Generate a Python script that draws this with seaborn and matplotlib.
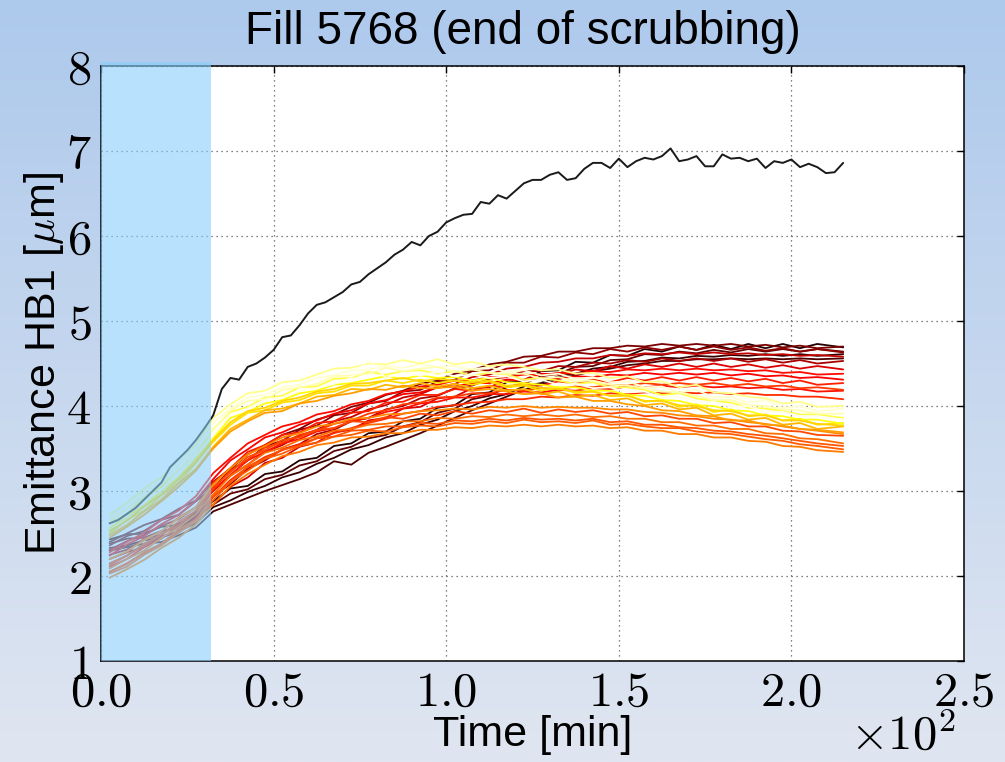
import numpy as np
import pandas as pd
import seaborn as sns
import matplotlib.pyplot as plt
from matplotlib.ticker import FuncFormatter, MultipleLocator

# sample times [min]
t_bunch = [2.5, 7.5, 12.5, 17.5, 22.5, 27.5, 32.5, 37.5, 42.5, 47.5, 52.5, 57.5, 62.5, 67.5,
           72.5, 77.5, 82.5, 87.5, 92.5, 97.5, 102.5, 107.5, 112.5, 117.5, 122.5, 127.5, 132.5,
           137.5, 142.5, 147.5, 152.5, 157.5, 162.5, 167.5, 172.5, 177.5, 182.5, 187.5, 192.5,
           197.5, 202.5, 207.5, 215]
t_black = [2.5, 5, 7.5, 10, 12.5, 15, 17.5, 20, 22.5, 25, 27.5, 30, 32.5, 35, 37.5, 40, 42.5,
           45, 47.5, 50, 52.5, 55, 57.5, 60, 62.5, 65, 67.5, 70, 72.5, 75, 77.5, 80, 82.5, 85,
           87.5, 90, 92.5, 95, 97.5, 100, 102.5, 105, 107.5, 110, 112.5, 115, 117.5, 120, 122.5,
           125, 127.5, 130, 132.5, 135, 137.5, 140, 142.5, 145, 147.5, 150, 152.5, 155, 157.5,
           160, 162.5, 165, 167.5, 170, 172.5, 175, 177.5, 180, 182.5, 185, 187.5, 190, 192.5,
           195, 197.5, 200, 202.5, 205, 207.5, 210, 212.5, 215]

# emittance of the single leading bunch (black)
emit_black = [2.62, 2.66, 2.73, 2.80, 2.90, 3.00, 3.10, 3.28, 3.38, 3.48, 3.60, 3.74, 3.89, 4.20,
              4.33, 4.31, 4.46, 4.50, 4.57, 4.66, 4.81, 4.83, 4.95, 5.09, 5.19, 5.22, 5.28, 5.34,
              5.43, 5.46, 5.55, 5.62, 5.69, 5.78, 5.84, 5.93, 5.89, 6.00, 6.05, 6.16, 6.21, 6.25,
              6.26, 6.40, 6.38, 6.48, 6.44, 6.53, 6.62, 6.66, 6.66, 6.72, 6.75, 6.66, 6.68, 6.79,
              6.86, 6.86, 6.80, 6.91, 6.81, 6.88, 6.92, 6.90, 6.94, 7.03, 6.88, 6.90, 6.94, 6.82,
              6.82, 6.96, 6.91, 6.92, 6.88, 6.91, 6.80, 6.88, 6.86, 6.90, 6.81, 6.85, 6.81, 6.74,
              6.75, 6.86]

# darkest bunches
k1 = [2.43, 2.49, 2.50, 2.58, 2.60, 2.75, 2.88, 3.03, 3.06, 3.20, 3.23, 3.36, 3.39, 3.53, 3.56,
      3.68, 3.70, 3.82, 3.85, 3.98, 4.01, 4.14, 4.16, 4.28, 4.30, 4.41, 4.42, 4.52, 4.51, 4.60,
      4.59, 4.67, 4.64, 4.70, 4.66, 4.72, 4.67, 4.73, 4.68, 4.73, 4.68, 4.73, 4.69]
k2 = [2.33, 2.36, 2.42, 2.45, 2.53, 2.62, 2.81, 2.89, 2.99, 3.06, 3.16, 3.22, 3.32, 3.39, 3.49,
      3.54, 3.63, 3.68, 3.78, 3.84, 3.94, 4.00, 4.09, 4.14, 4.23, 4.27, 4.35, 4.38, 4.44, 4.46,
      4.52, 4.53, 4.57, 4.56, 4.59, 4.58, 4.60, 4.59, 4.61, 4.59, 4.61, 4.59, 4.61]
k3 = [2.30, 2.34, 2.38, 2.40, 2.48, 2.57, 2.76, 2.84, 2.92, 3.00, 3.07, 3.14, 3.22, 3.35, 3.31,
      3.45, 3.52, 3.60, 3.68, 3.77, 3.86, 3.95, 4.03, 4.11, 4.19, 4.25, 4.32, 4.36, 4.41, 4.44,
      4.48, 4.50, 4.53, 4.53, 4.55, 4.55, 4.56, 4.55, 4.56, 4.55, 4.56, 4.55, 4.56]
k4 = [2.38, 2.44, 2.45, 2.53, 2.56, 2.70, 2.84, 2.97, 3.02, 3.14, 3.19, 3.30, 3.35, 3.47, 3.52,
      3.62, 3.66, 3.76, 3.81, 3.92, 3.97, 4.08, 4.12, 4.22, 4.26, 4.35, 4.38, 4.46, 4.47, 4.54,
      4.55, 4.61, 4.60, 4.64, 4.62, 4.66, 4.63, 4.67, 4.64, 4.67, 4.64, 4.67, 4.64]

# dark red bunches
d1 = [2.36, 2.47, 2.53, 2.66, 2.72, 2.88, 3.04, 3.25, 3.36, 3.53, 3.59, 3.72, 3.77, 3.89, 3.92,
      4.03, 4.06, 4.17, 4.19, 4.29, 4.31, 4.41, 4.42, 4.51, 4.51, 4.58, 4.57, 4.63, 4.61, 4.67,
      4.64, 4.69, 4.66, 4.70, 4.66, 4.70, 4.66, 4.69, 4.65, 4.68, 4.64, 4.67, 4.63]
d2 = [2.25, 2.31, 2.43, 2.49, 2.62, 2.71, 2.94, 3.08, 3.26, 3.36, 3.49, 3.55, 3.67, 3.72, 3.82,
      3.86, 3.96, 4.00, 4.09, 4.12, 4.21, 4.24, 4.32, 4.34, 4.41, 4.41, 4.47, 4.46, 4.51, 4.50,
      4.54, 4.52, 4.56, 4.53, 4.56, 4.53, 4.56, 4.52, 4.55, 4.51, 4.54, 4.50, 4.53]
d3 = [2.31, 2.41, 2.48, 2.59, 2.67, 2.81, 3.00, 3.18, 3.31, 3.46, 3.54, 3.65, 3.72, 3.82, 3.87,
      3.96, 4.01, 4.10, 4.14, 4.22, 4.26, 4.34, 4.37, 4.44, 4.46, 4.51, 4.52, 4.56, 4.56, 4.60,
      4.59, 4.62, 4.61, 4.63, 4.61, 4.63, 4.61, 4.62, 4.60, 4.61, 4.59, 4.60, 4.58]
d4 = [2.20, 2.28, 2.34, 2.47, 2.52, 2.69, 2.84, 3.05, 3.16, 3.33, 3.39, 3.52, 3.57, 3.69, 3.72,
      3.83, 3.86, 3.97, 3.99, 4.09, 4.11, 4.21, 4.22, 4.31, 4.31, 4.38, 4.37, 4.43, 4.41, 4.47,
      4.44, 4.49, 4.46, 4.50, 4.46, 4.50, 4.46, 4.49, 4.45, 4.48, 4.44, 4.47, 4.43]
d5 = [2.40, 2.50, 2.60, 2.67, 2.79, 2.89, 3.11, 3.26, 3.43, 3.54, 3.66, 3.73, 3.84, 3.90, 3.99,
      4.04, 4.13, 4.18, 4.26, 4.30, 4.38, 4.42, 4.49, 4.52, 4.58, 4.59, 4.64, 4.64, 4.68, 4.68,
      4.71, 4.70, 4.73, 4.71, 4.73, 4.71, 4.73, 4.70, 4.72, 4.69, 4.71, 4.68, 4.70]

# red bunches
r1 = [2.24, 2.37, 2.47, 2.61, 2.72, 2.89, 3.14, 3.36, 3.49, 3.63, 3.69, 3.78, 3.83, 3.91, 3.95,
      4.03, 4.07, 4.14, 4.16, 4.22, 4.23, 4.27, 4.27, 4.31, 4.30, 4.33, 4.32, 4.35, 4.34, 4.37,
      4.36, 4.39, 4.37, 4.39, 4.37, 4.39, 4.36, 4.38, 4.35, 4.36, 4.33, 4.34, 4.31]
r2 = [2.11, 2.20, 2.34, 2.44, 2.59, 2.72, 3.01, 3.19, 3.36, 3.46, 3.56, 3.61, 3.70, 3.74, 3.82,
      3.86, 3.93, 3.97, 4.03, 4.05, 4.10, 4.10, 4.14, 4.14, 4.17, 4.16, 4.19, 4.18, 4.21, 4.20,
      4.23, 4.22, 4.24, 4.22, 4.24, 4.22, 4.23, 4.21, 4.22, 4.19, 4.20, 4.17, 4.18]
r3 = [2.20, 2.28, 2.44, 2.52, 2.69, 2.81, 3.10, 3.27, 3.46, 3.54, 3.66, 3.69, 3.80, 3.82, 3.92,
      3.94, 4.04, 4.05, 4.13, 4.13, 4.20, 4.18, 4.24, 4.22, 4.27, 4.24, 4.29, 4.26, 4.31, 4.28,
      4.33, 4.30, 4.34, 4.30, 4.34, 4.30, 4.33, 4.29, 4.32, 4.27, 4.30, 4.25, 4.27]
r4 = [2.05, 2.15, 2.27, 2.38, 2.52, 2.66, 2.93, 3.13, 3.28, 3.40, 3.48, 3.55, 3.62, 3.68, 3.74,
      3.80, 3.85, 3.91, 3.94, 3.99, 4.01, 4.04, 4.05, 4.08, 4.08, 4.11, 4.10, 4.13, 4.12, 4.15,
      4.14, 4.16, 4.15, 4.16, 4.15, 4.16, 4.14, 4.15, 4.13, 4.13, 4.11, 4.11, 4.08]
r5 = [2.28, 2.40, 2.51, 2.66, 2.77, 2.94, 3.21, 3.39, 3.56, 3.66, 3.76, 3.81, 3.90, 3.94, 4.02,
      4.06, 4.14, 4.17, 4.23, 4.25, 4.30, 4.30, 4.34, 4.34, 4.37, 4.36, 4.39, 4.38, 4.41, 4.40,
      4.43, 4.42, 4.44, 4.42, 4.44, 4.42, 4.43, 4.41, 4.42, 4.39, 4.40, 4.37, 4.38]
r6 = [2.13, 2.24, 2.36, 2.49, 2.60, 2.77, 3.02, 3.24, 3.37, 3.51, 3.57, 3.66, 3.71, 3.79, 3.83,
      3.91, 3.95, 4.02, 4.04, 4.10, 4.11, 4.15, 4.15, 4.19, 4.18, 4.21, 4.20, 4.23, 4.22, 4.25,
      4.24, 4.27, 4.25, 4.27, 4.25, 4.27, 4.24, 4.26, 4.23, 4.24, 4.21, 4.22, 4.19]

# orange bunches
o1 = [2.15, 2.24, 2.38, 2.49, 2.64, 2.77, 3.05, 3.22, 3.40, 3.48, 3.60, 3.63, 3.72, 3.74, 3.82,
      3.81, 3.87, 3.85, 3.91, 3.89, 3.94, 3.91, 3.95, 3.93, 3.97, 3.92, 3.96, 3.93, 3.95, 3.91,
      3.93, 3.88, 3.89, 3.85, 3.85, 3.80, 3.81, 3.76, 3.76, 3.71, 3.70, 3.66, 3.65]
o2 = [2.03, 2.11, 2.25, 2.36, 2.51, 2.64, 2.89, 3.11, 3.24, 3.38, 3.44, 3.53, 3.57, 3.64, 3.66,
      3.71, 3.70, 3.75, 3.77, 3.76, 3.80, 3.79, 3.82, 3.80, 3.84, 3.81, 3.82, 3.80, 3.83, 3.78,
      3.79, 3.76, 3.74, 3.74, 3.70, 3.68, 3.67, 3.64, 3.61, 3.59, 3.55, 3.53, 3.49]
o3 = [2.09, 2.20, 2.30, 2.45, 2.57, 2.73, 2.96, 3.18, 3.31, 3.45, 3.51, 3.60, 3.64, 3.71, 3.73,
      3.78, 3.79, 3.82, 3.82, 3.86, 3.85, 3.88, 3.87, 3.90, 3.88, 3.90, 3.88, 3.90, 3.87, 3.88,
      3.85, 3.85, 3.81, 3.81, 3.77, 3.77, 3.73, 3.73, 3.68, 3.67, 3.62, 3.61, 3.56]
o4 = [1.98, 2.08, 2.19, 2.33, 2.45, 2.61, 2.84, 3.06, 3.20, 3.31, 3.41, 3.46, 3.54, 3.57, 3.63,
      3.64, 3.68, 3.68, 3.72, 3.72, 3.75, 3.74, 3.77, 3.76, 3.78, 3.76, 3.78, 3.76, 3.77, 3.74,
      3.75, 3.71, 3.71, 3.67, 3.67, 3.63, 3.63, 3.59, 3.58, 3.53, 3.52, 3.48, 3.46]
o5 = [2.20, 2.29, 2.42, 2.53, 2.68, 2.81, 3.08, 3.27, 3.43, 3.53, 3.63, 3.68, 3.76, 3.79, 3.85,
      3.86, 3.90, 3.91, 3.94, 3.95, 3.97, 3.96, 3.99, 3.98, 4.00, 3.98, 3.99, 3.98, 3.98, 3.96,
      3.96, 3.93, 3.92, 3.89, 3.88, 3.85, 3.84, 3.81, 3.79, 3.76, 3.73, 3.71, 3.67]
o6 = [2.05, 2.14, 2.28, 2.38, 2.55, 2.66, 2.94, 3.10, 3.29, 3.38, 3.49, 3.53, 3.62, 3.64, 3.71,
      3.72, 3.76, 3.76, 3.80, 3.79, 3.83, 3.82, 3.85, 3.83, 3.86, 3.84, 3.85, 3.83, 3.85, 3.81,
      3.82, 3.78, 3.78, 3.75, 3.74, 3.71, 3.70, 3.67, 3.65, 3.62, 3.59, 3.56, 3.53]

# yellow bunches
y1 = [2.68, 2.80, 2.99, 3.10, 3.31, 3.52, 3.80, 3.97, 4.10, 4.13, 4.22, 4.25, 4.33, 4.36, 4.42,
      4.43, 4.47, 4.45, 4.49, 4.46, 4.47, 4.43, 4.46, 4.40, 4.42, 4.36, 4.38, 4.32, 4.34, 4.28,
      4.29, 4.22, 4.23, 4.16, 4.19, 4.10, 4.11, 4.04, 4.07, 3.98, 4.00, 3.94, 3.97]
y2 = [2.50, 2.66, 2.77, 2.95, 3.10, 3.33, 3.58, 3.78, 3.92, 3.95, 4.04, 4.07, 4.15, 4.17, 4.24,
      4.24, 4.30, 4.27, 4.31, 4.27, 4.30, 4.25, 4.29, 4.22, 4.24, 4.18, 4.22, 4.15, 4.17, 4.12,
      4.13, 4.05, 4.07, 3.99, 4.02, 3.93, 3.96, 3.88, 3.90, 3.83, 3.85, 3.78, 3.80]
y3 = [2.62, 2.73, 2.92, 3.05, 3.25, 3.41, 3.73, 3.93, 3.99, 4.10, 4.12, 4.22, 4.23, 4.32, 4.33,
      4.40, 4.37, 4.41, 4.42, 4.38, 4.41, 4.36, 4.39, 4.37, 4.31, 4.33, 4.30, 4.26, 4.28, 4.22,
      4.22, 4.19, 4.13, 4.15, 4.09, 4.06, 4.04, 3.98, 3.97, 3.94, 3.90, 3.90, 3.86]
y4 = [2.48, 2.60, 2.76, 2.90, 3.09, 3.26, 3.52, 3.73, 3.84, 3.95, 3.97, 4.03, 4.11, 4.13, 4.20,
      4.19, 4.25, 4.22, 4.27, 4.23, 4.26, 4.21, 4.24, 4.18, 4.20, 4.14, 4.17, 4.11, 4.13, 4.07,
      4.09, 4.01, 4.03, 3.96, 3.98, 3.89, 3.91, 3.84, 3.86, 3.78, 3.80, 3.73, 3.76]
y5 = [2.72, 2.86, 3.03, 3.16, 3.37, 3.55, 3.86, 4.02, 4.15, 4.18, 4.28, 4.30, 4.37, 4.44, 4.45,
      4.50, 4.49, 4.54, 4.50, 4.55, 4.49, 4.52, 4.47, 4.49, 4.46, 4.42, 4.43, 4.38, 4.39, 4.33,
      4.35, 4.28, 4.29, 4.22, 4.25, 4.16, 4.15, 4.11, 4.09, 4.03, 4.05, 3.99, 4.00]
y6 = [2.56, 2.70, 2.83, 3.00, 3.16, 3.38, 3.62, 3.86, 3.93, 4.03, 4.07, 4.15, 4.18, 4.25, 4.27,
      4.31, 4.35, 4.32, 4.36, 4.33, 4.34, 4.30, 4.33, 4.28, 4.27, 4.25, 4.22, 4.22, 4.18, 4.18,
      4.13, 4.12, 4.07, 4.06, 4.01, 4.00, 3.95, 3.94, 3.89, 3.88, 3.84, 3.84, 3.79]
y7 = [2.64, 2.79, 2.94, 3.09, 3.24, 3.47, 3.72, 3.95, 4.06, 4.08, 4.19, 4.22, 4.26, 4.35, 4.36,
      4.38, 4.45, 4.41, 4.44, 4.46, 4.40, 4.43, 4.39, 4.38, 4.38, 4.32, 4.34, 4.29, 4.30, 4.25,
      4.24, 4.21, 4.17, 4.16, 4.12, 4.07, 4.07, 4.01, 4.00, 3.96, 3.95, 3.91, 3.91]
y8 = [2.53, 2.65, 2.82, 2.96, 3.14, 3.35, 3.60, 3.81, 3.94, 3.98, 4.06, 4.10, 4.17, 4.20, 4.26,
      4.27, 4.30, 4.33, 4.29, 4.32, 4.30, 4.28, 4.30, 4.24, 4.25, 4.21, 4.20, 4.17, 4.17, 4.12,
      4.12, 4.06, 4.06, 4.01, 4.00, 3.95, 3.94, 3.89, 3.89, 3.83, 3.83, 3.79, 3.77]
y9 = [2.45, 2.58, 2.72, 2.88, 3.05, 3.24, 3.50, 3.70, 3.82, 3.92, 3.94, 4.03, 4.06, 4.12, 4.15,
      4.20, 4.19, 4.24, 4.21, 4.21, 4.23, 4.18, 4.20, 4.17, 4.14, 4.15, 4.10, 4.11, 4.06, 4.06,
      4.02, 4.00, 3.95, 3.94, 3.89, 3.88, 3.83, 3.83, 3.78, 3.77, 3.73, 3.72, 3.69]
y10 = [2.60, 2.71, 2.89, 3.01, 3.22, 3.42, 3.66, 3.90, 3.97, 4.07, 4.10, 4.18, 4.21, 4.26, 4.33,
       4.55, 4.33, 4.39, 4.36, 4.40, 4.35, 4.37, 4.33, 4.35, 4.29, 4.31, 4.25, 4.26, 4.21, 4.22,
       4.16, 4.17, 4.10, 4.11, 4.05, 4.05, 3.99, 4.00, 3.93, 3.93, 3.88, 3.88, 3.84]

# position of each bunch in the 'hot' colour map (drawing order = list order)
bunches = [k1, k2, k3, k4, d1, d2, d3, d4, d5, r1, r2, r3, r4, r5, r6,
           o1, o2, o3, o4, o5, o6, y1, y2, y3, y4, y5, y6, y7, y8, y9, y10]
hot_pos = [0.04, 0.07, 0.10, 0.13, 0.20, 0.24, 0.28, 0.31, 0.17, 0.36, 0.39, 0.41, 0.43, 0.38, 0.45,
           0.47, 0.50, 0.53, 0.55, 0.57, 0.49, 0.95, 0.70, 0.82, 0.64, 0.88, 0.76, 0.92, 0.68, 0.60, 0.98]

sns.set_style("white")
plt.rcParams['font.family'] = ['Liberation Sans', 'DejaVu Sans']
plt.rcParams['mathtext.fontset'] = 'cm'
plt.rcParams['text.color'] = 'black'
plt.rcParams['axes.labelcolor'] = 'black'
plt.rcParams['xtick.color'] = 'black'
plt.rcParams['ytick.color'] = 'black'

fig = plt.figure(figsize=(10.05, 7.62), dpi=100)

# slide background gradient
bg = fig.add_axes([0, 0, 1, 1], zorder=-10)
top_c = np.array([173, 201, 236]) / 255
bot_c = np.array([224, 230, 241]) / 255
frac = np.linspace(0, 1, 256)[:, None, None]
bg.imshow(top_c * (1 - frac) + bot_c * frac, aspect='auto', extent=[0, 1, 0, 1])
bg.axis('off')

ax = fig.add_axes([0.1005, 0.1325, 0.8587, 0.7809])
ax.set_facecolor('white')

cmap = plt.get_cmap('hot')
for vals, pos in zip(bunches, hot_pos):
    sns.lineplot(x=t_bunch[:len(vals)], y=vals, color=cmap(pos), lw=1.3, ax=ax, zorder=2)
sns.lineplot(x=t_black, y=emit_black, color='#1a1a1a', lw=1.4, ax=ax, zorder=2.2)

# scrubbing ramp-up shading
ax.axvspan(0, 32, ymax=1.007, color='lightskyblue', alpha=0.6, lw=0, zorder=3, clip_on=False)

ax.set_xlim(0, 250)
ax.set_ylim(1, 8)
ax.xaxis.set_major_locator(MultipleLocator(50))
ax.yaxis.set_major_locator(MultipleLocator(1))
ax.xaxis.set_major_formatter(FuncFormatter(lambda v, p: '$%.1f$' % (v / 100)))
ax.yaxis.set_major_formatter(FuncFormatter(lambda v, p: '$%d$' % v))
ax.tick_params(direction='in', length=5, width=1, top=True, right=True,
               labelsize=35, pad=7, colors='black')
ax.grid(True, color='0.35', lw=0.9, linestyle=(0, (1, 3)))
for s in ax.spines.values():
    s.set_color('black')
    s.set_linewidth(1.1)

ax.set_xlabel('Time [min]', fontsize=31, color='black')
ax.set_ylabel(r'Emittance HB1 [$\mu$m]', fontsize=31, color='black')
ax.xaxis.set_label_coords(0.5, -0.09)
ax.yaxis.set_label_coords(-0.04, 0.5)

fig.text(0.951, 0.016, r'$\times10^{2}$', ha='right', va='baseline', fontsize=35, color='black')
fig.text(0.52, 0.958, 'Fill 5768 (end of scrubbing)', ha='center', va='center',
         fontsize=33, color='black')

fig.savefig('out.png', dpi=100)
